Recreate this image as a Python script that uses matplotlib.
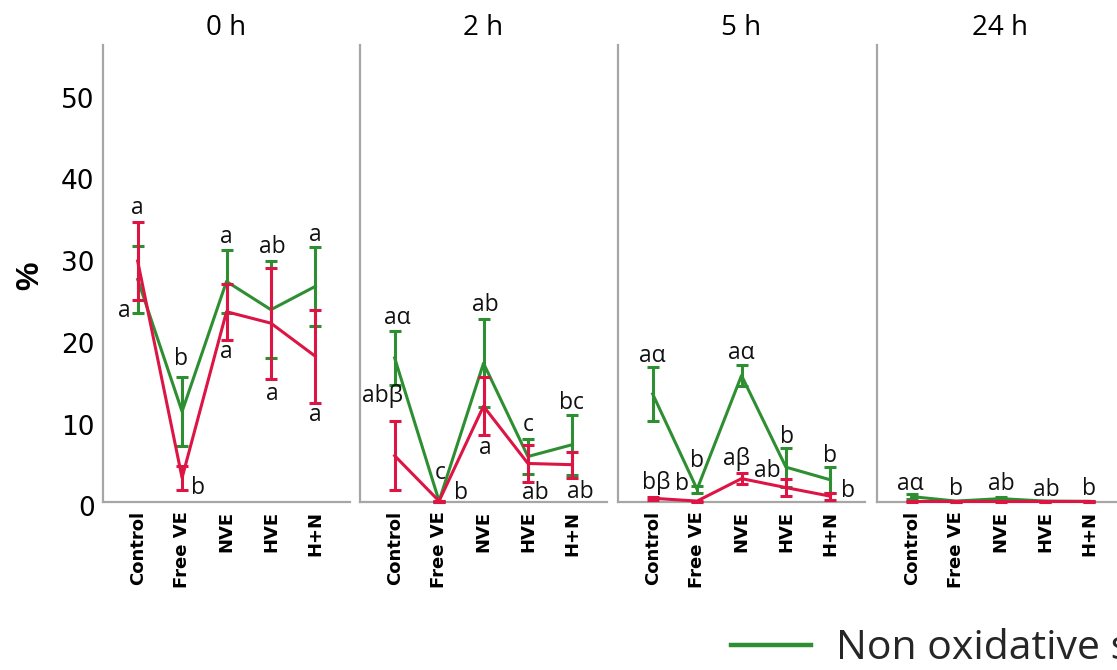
import matplotlib
matplotlib.use("Agg")
import matplotlib.pyplot as plt
from matplotlib.lines import Line2D
from matplotlib.transforms import ScaledTranslation

# ---------------- data ----------------
categories = ["Control", "Free VE", "NVE", "HVE", "H+N"]
timepoints = ["0 h", "2 h", "5 h", "24 h"]
series_names = ["Non oxidative stress", "Oxidative stress"]

# Non oxidative stress (green): mean and error per time point
green_mean = [
    [27.15, 11.0, 26.9, 23.45, 26.3],
    [17.55, 0.05, 16.9, 5.5, 6.95],
    [13.15, 1.5, 15.4, 4.2, 2.65],
    [0.6, 0.05, 0.35, 0.05, 0.02],
]
green_err = [
    [4.05, 4.2, 3.9, 5.95, 4.8],
    [3.35, 0.05, 5.4, 2.1, 3.65],
    [3.25, 0.4, 1.3, 2.4, 1.55],
    [0.3, 0.05, 0.25, 0.05, 0.02],
]
# Oxidative stress (red)
red_mean = [
    [29.4, 2.9, 23.2, 21.8, 17.75],
    [5.6, 0.05, 11.65, 4.65, 4.5],
    [0.4, 0.05, 2.8, 1.7, 0.65],
    [0.05, 0.05, 0.05, 0.05, 0.05],
]
red_err = [
    [4.8, 1.5, 3.4, 6.8, 5.65],
    [4.2, 0.05, 3.55, 2.25, 1.6],
    [0.2, 0.05, 0.7, 1.0, 0.45],
    [0.05, 0.05, 0.05, 0.05, 0.05],
]

# significance letters per panel
letters = [
    ["a", "a", "b", "b", "a", "a", "ab", "a", "a", "a"],
    ["a\u03b1", "ab\u03b2", "c", "b", "ab", "a", "c", "ab", "bc", "ab"],
    ["a\u03b1", "b\u03b2", "b", "b", "a\u03b1", "a\u03b2", "ab", "b", "b", "b"],
    ["a\u03b1", "b", "ab", "ab", "b"],
]
# letter positions (category units, value units)
letter_pos = [
    [(0.0, 35.9), (-0.3, 23.3), (0.97, 17.4), (1.35, 1.7), (2.0, 32.3),
     (2.0, 18.3), (3.02, 31.1), (3.02, 13.2), (3.99, 32.6), (3.99, 10.6)],
    [(0.05, 22.4), (-0.27, 12.9), (1.02, 3.45), (1.49, 1.0), (2.04, 24.0),
     (2.04, 6.5), (3.01, 9.35), (3.16, 1.0), (3.99, 12.0), (4.19, 1.2)],
    [(0.0, 17.8), (0.09, 2.3), (1.0, 5.0), (0.67, 2.1), (2.0, 18.1),
     (1.89, 5.2), (2.57, 3.7), (3.03, 7.9), (4.0, 5.6), (4.39, 1.3)],
    [(-0.04, 2.1), (1.0, 1.5), (2.02, 2.1), (3.03, 1.4), (4.0, 1.5)],
]

GREEN = "#2e8f32"
RED = "#dc1545"
AXCOL = "#a6a6a6"

W, H = 1117, 670
fig = plt.figure(figsize=(W / 100, H / 100), dpi=100)

x = list(range(len(categories)))
panel_left = [103, 360, 618, 877]
ax_w = 247
ax_bottom = 501.5
ax_top = 45
ymax = (ax_bottom - ax_top) / 8.18

for i, t in enumerate(timepoints):
    ax = fig.add_axes([panel_left[i] / W, 1 - ax_bottom / H, ax_w / W, (ax_bottom - ax_top) / H])
    ax.errorbar(x, green_mean[i], yerr=green_err[i], color=GREEN, lw=2.2,
                capsize=4, capthick=2.2, elinewidth=2.2, zorder=3, clip_on=False)
    ax.errorbar(x, red_mean[i], yerr=red_err[i], color=RED, lw=2.2,
                capsize=4, capthick=2.2, elinewidth=2.2, zorder=4, clip_on=False)
    ax.set_xlim(-0.78, 4.78)
    ax.set_ylim(0, ymax)
    for s in ["top", "right"]:
        ax.spines[s].set_visible(False)
    for s in ["left", "bottom"]:
        ax.spines[s].set_color(AXCOL)
        ax.spines[s].set_linewidth(1.6)
    ax.set_xticks(x)
    ax.set_xticklabels(categories, rotation=90, fontsize=13, fontweight="bold",
                       family="DejaVu Sans")
    ax.tick_params(axis="x", length=0, pad=7)
    ax.set_title(t, fontsize=20, family="Open Sans", pad=7)
    if i == 0:
        ax.set_yticks([0, 10, 20, 30, 40, 50])
        ax.tick_params(axis="y", length=0, pad=6, labelsize=19)
        for lab in ax.get_yticklabels():
            lab.set_family("DejaVu Sans")
            lab.set_transform(lab.get_transform() + ScaledTranslation(0, -5 / 100, fig.dpi_scale_trans))
    else:
        ax.set_yticks([])
    for txt, (lx, ly) in zip(letters[i], letter_pos[i]):
        ax.text(lx, ly, txt, ha="center", va="center", fontsize=16.5,
                family=["Open Sans", "DejaVu Sans"], color="#111111", zorder=6, clip_on=False)

fig.text(30 / W, 1 - 276 / H, "%", rotation=90, ha="center", va="center",
         fontsize=23, fontweight="bold", family="Liberation Sans")

handles = [Line2D([0], [0], color=GREEN, lw=3.2)]
fig.legend(handles, series_names[:1], loc="center left", bbox_to_anchor=(731 / W, 1 - 649 / H),
           frameon=False, prop={"family": "Open Sans", "size": 29.5},
           handlelength=1.95, handletextpad=0.62, borderpad=0, borderaxespad=0,
           labelcolor="#262626")

fig.savefig("out.png", dpi=100)
